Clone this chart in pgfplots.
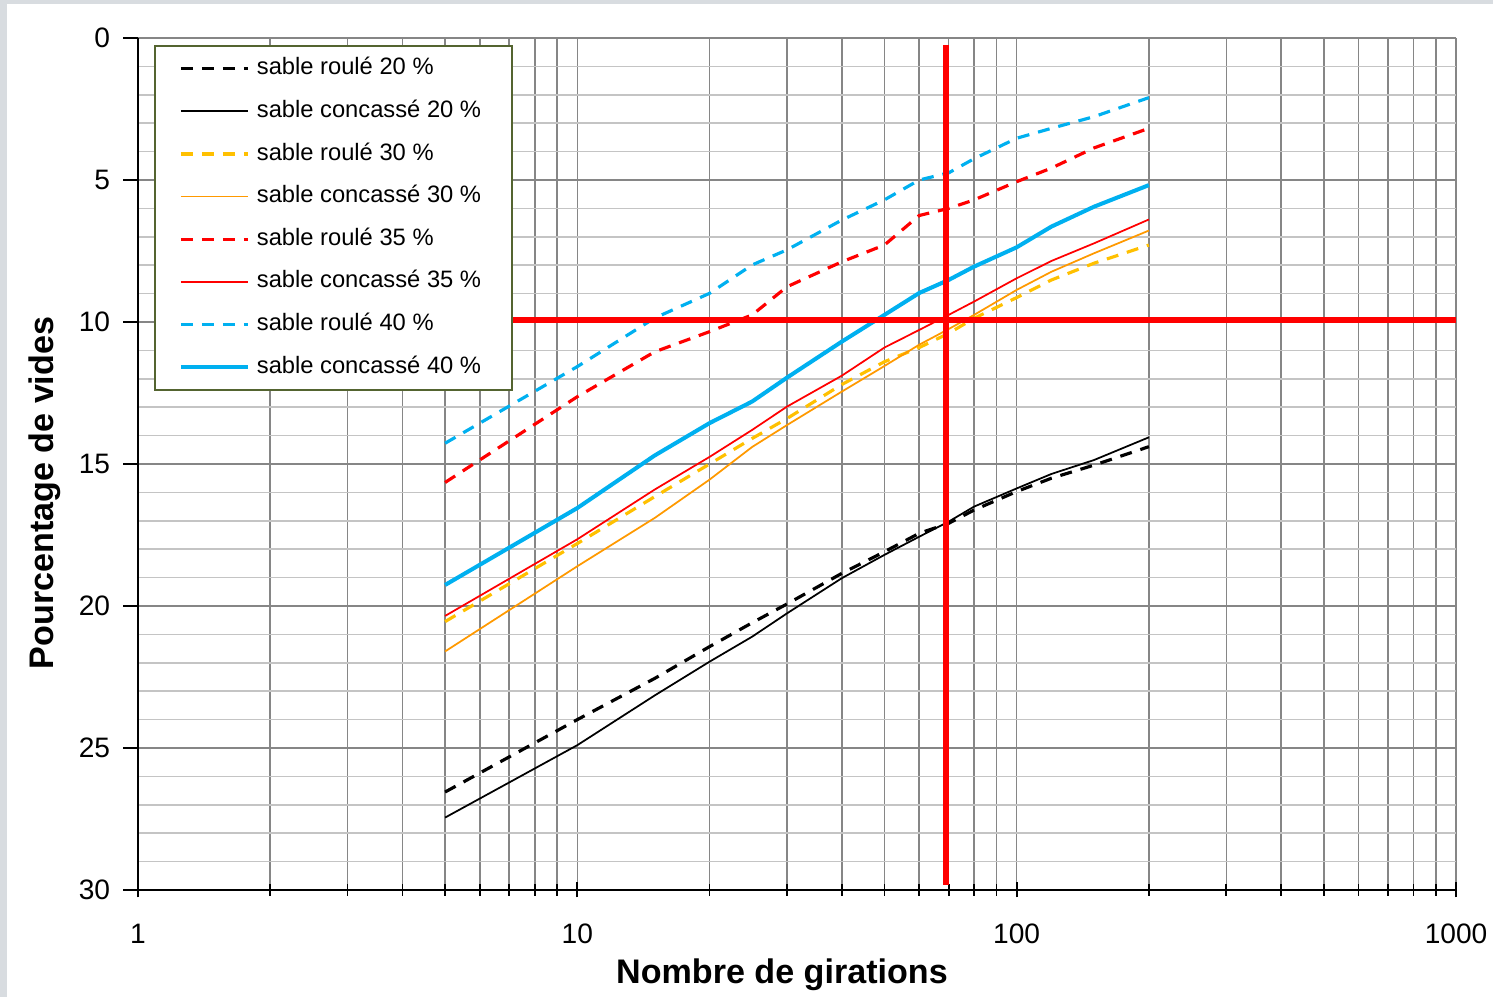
\documentclass[border=0pt]{standalone}
\usepackage{fontspec}
\setmainfont{Liberation Sans}
\usepackage{pgfplots}
\pgfplotsset{compat=1.18}

\definecolor{gmaj}{RGB}{134,134,134}
\definecolor{gmin}{RGB}{196,196,196}
\definecolor{cjaune}{RGB}{255,192,0}
\definecolor{corange}{RGB}{255,153,0}
\definecolor{cbleu}{RGB}{0,176,240}
\definecolor{legbord}{RGB}{84,100,48}
\definecolor{bordgris}{RGB}{216,220,224}

\tikzset{tiret/.style={dash pattern=on 0.12cm off 0.09cm, line width=0.9pt}}

\begin{document}
\begin{tikzpicture}[x=1cm,y=1cm]
\path[use as bounding box] (0,0) rectangle (14.93,9.97);
\fill[bordgris] (0,0) rectangle (0.07,9.97);
\fill[bordgris] (0,9.93) rectangle (14.93,9.97);
\begin{axis}[
    at={(1.38cm,1.07cm)}, anchor=south west,
    scale only axis, width=13.18cm, height=8.52cm,
    xmode=log, xmin=1, xmax=1000,
    ymin=0, ymax=30, y dir=reverse,
    xtick={1,10,100,1000}, xticklabels={1,10,100,1000},
    ytick={0,5,10,15,20,25,30}, yticklabels={0,5,10,15,20,25,30},
    minor y tick num=4,
    axis x line*=bottom, axis y line*=left,
    axis line style={black, line width=0.6pt},
    tick align=center,
    major tick length=0.15cm, minor tick length=0.12cm,
    tick style={black, line width=0.5pt},
    ytick style={xshift=-0.075cm},
    minor y tick style={draw=none},
    grid=both,
    major grid style={draw=gmaj, line width=0.45pt},
    minor x grid style={draw=gmaj, line width=0.45pt},
    minor y grid style={draw=gmin, line width=0.5pt},
    ticklabel style={font=\fontsize{8}{9.6}\selectfont},
    xticklabel style={yshift=-0.14cm},
    yticklabel style={xshift=-0.08cm},
    xlabel={\bfseries Nombre de girations},
    ylabel={\bfseries Pourcentage de vides},
    label style={font=\fontsize{9.7}{11.6}\selectfont},
    xlabel style={at={(axis description cs:0.4886,-0.0998)}, anchor=center},
    ylabel style={at={(axis description cs:-0.0706,0.466)}, anchor=center},
    legend cell align=left,
    legend image code/.code={\draw[#1] (0cm,0cm) -- (0.67cm,0cm);},
    legend style={at={(0.0125,0.9918)}, anchor=north west,
        draw=legbord, line width=0.5pt, fill=white,
        font=\fontsize{6.75}{8}\selectfont,
        row sep=0.058cm, inner xsep=0.235cm, inner ysep=0.045cm,
        /tikz/every even column/.append style={column sep=0.11cm}},
]
% sable roule 20 %
\addplot[black, tiret] coordinates {
  (5,26.55) (10,24.0) (15,22.55) (20,21.43) (25,20.59) (30,19.93) (40,18.85)
  (50,18.09) (60,17.44) (70,17.09) (80,16.62) (100,15.97) (120,15.5) (150,15.04) (200,14.39)};
% sable concasse 20 %
\addplot[black, line width=0.5pt] coordinates {
  (5,27.45) (10,24.9) (15,23.15) (20,21.96) (25,21.08) (30,20.26) (40,19.02)
  (50,18.2) (60,17.56) (70,17.03) (80,16.5) (100,15.86) (120,15.35) (150,14.86) (200,14.06)};
% sable roule 30 %
\addplot[cjaune, tiret] coordinates {
  (5,20.55) (10,17.8) (15,16.15) (20,15.0) (25,14.1) (30,13.4) (40,12.2)
  (50,11.4) (60,10.9) (70,10.4) (80,9.87) (100,9.14) (120,8.52) (150,7.93) (200,7.29)};
% sable concasse 30 %
\addplot[corange, line width=0.5pt] coordinates {
  (5,21.6) (10,18.6) (15,16.9) (20,15.55) (25,14.4) (30,13.63) (40,12.45)
  (50,11.55) (60,10.8) (70,10.25) (80,9.75) (100,8.87) (120,8.23) (150,7.58) (200,6.78)};
% sable roule 35 %
\addplot[red, tiret] coordinates {
  (5,15.65) (10,12.63) (15,11.05) (20,10.34) (25,9.75) (30,8.76) (40,7.88)
  (50,7.29) (60,6.25) (70,6.0) (80,5.7) (100,5.06) (120,4.58) (150,3.87) (200,3.18)};
% sable concasse 35 %
\addplot[red, line width=0.5pt] coordinates {
  (5,20.35) (10,17.65) (15,15.9) (20,14.75) (25,13.8) (30,12.98) (40,11.89)
  (50,10.9) (60,10.28) (70,9.75) (80,9.28) (100,8.46) (120,7.85) (150,7.23) (200,6.39)};
% sable roule 40 %
\addplot[cbleu, tiret] coordinates {
  (5,14.27) (10,11.57) (15,9.86) (20,8.99) (25,7.99) (30,7.46) (40,6.41)
  (50,5.7) (60,5.0) (70,4.75) (80,4.25) (100,3.53) (120,3.18) (150,2.77) (200,2.1)};
% sable concasse 40 %
\addplot[cbleu, line width=1.15pt] coordinates {
  (5,19.26) (10,16.55) (15,14.7) (20,13.56) (25,12.8) (30,11.96) (40,10.69)
  (50,9.75) (60,8.98) (70,8.52) (80,8.05) (100,7.37) (120,6.64) (150,5.94) (200,5.18)};
% croix rouge
\addplot[red, line width=1.8pt, forget plot] coordinates {(69,0.25) (69,29.82)};
\addplot[red, line width=1.9pt, forget plot] coordinates {(7.1,9.93) (1000,9.93)};
\legend{sable roulé 20 \%, sable concassé 20 \%, sable roulé 30 \%, sable concassé 30 \%,
  sable roulé 35 \%, sable concassé 35 \%, sable roulé 40 \%, sable concassé 40 \%}
\end{axis}
\end{tikzpicture}
\end{document}
